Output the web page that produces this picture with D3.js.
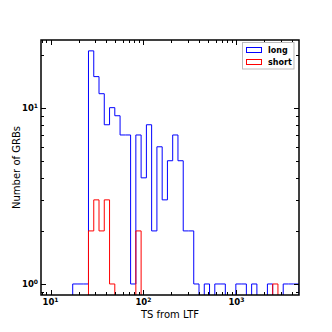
<!DOCTYPE html>
<html><head><meta charset="utf-8">
<script src="https://cdn.jsdelivr.net/npm/d3@7"></script>
<style>body{margin:0;background:#fff}svg{display:block}</style>
</head><body>
<svg id="c" width="332" height="332"></svg>
<script>
// Logarithmic histogram bin edges (TS values)
const binEdges = [17.33, 19.74, 22.48, 25.61, 29.18, 33.24, 37.87, 43.15, 49.15, 56.00,
  63.80, 72.68, 82.79, 94.32, 107.5, 122.4, 139.5, 158.9, 181.0, 206.2,
  234.9, 267.6, 304.9, 347.3, 395.7, 450.8, 513.5, 585.1, 666.6, 759.3,
  865.0, 985.4, 1122.6, 1278.9, 1456.9, 1659.6, 1890.7, 2153.9, 2454, 2795,
  3185, 3628, 4133, 4709];
const longCounts = [1, 1, 1, 21, 15, 12, 8, 10, 9, 7,
  7, 1, 7, 4, 8, 2, 6, 3, 5, 7,
  5, 2, 2, 1, 0, 1, 0, 1, 1, 0,
  0, 1, 1, 0, 1, 0, 0, 1, 0, 0,
  1, 1, 1];
const shortCounts = [0, 0, 0, 2, 3, 2, 3, 1, 0, 0,
  0, 0, 2, 0, 0, 0, 0, 0, 0, 0,
  0, 0, 0, 0, 0, 0, 0, 0, 0, 0,
  0, 0, 0, 0, 0, 0, 0, 0, 1, 0,
  0, 0, 0];
const seriesNames = ["long", "short"];
const seriesColors = ["#0000ff", "#ff0000"];
const xMajorTicks = [10, 100, 1000];
const xTickExps = ["1", "2", "3"];
const yMajorTicks = [1, 10];
const yTickExps = ["0", "1"];
const xDomain = [7.9, 4709];
const yDomain = [0.866, 24.2];

const svg = d3.select("#c");
const L = 41, R = 299, T = 40, B = 295;
const x = d3.scaleLog().domain(xDomain).range([L, R]);
const y = d3.scaleLog().domain(yDomain).range([B, T]);

svg.append("clipPath").attr("id", "clip").append("rect")
  .attr("x", L).attr("y", T).attr("width", R - L).attr("height", B - T);

function stepPoints(counts) {
  const pts = [[binEdges[0], 0]];
  counts.forEach((c, i) => { pts.push([binEdges[i], c]); pts.push([binEdges[i + 1], c]); });
  pts.push([binEdges[binEdges.length - 1], 0]);
  return pts;
}
const line = d3.line()
  .x(d => x(d[0]))
  .y(d => d[1] > 0 ? y(d[1]) : B + 20);

const g = svg.append("g").attr("clip-path", "url(#clip)");
[longCounts, shortCounts].forEach((counts, i) => {
  g.append("path").attr("d", line(stepPoints(counts)))
    .attr("fill", "none").attr("stroke", seriesColors[i]).attr("stroke-width", 1);
});

// ticks
const tickG = svg.append("g").attr("stroke", "#000").attr("stroke-width", 1);
const majLen = 5, minLen = 3;
function xMinor() {
  const out = [];
  for (let d = 1; d <= 1000; d *= 10) for (let m = 2; m <= 9; m++) {
    const v = m * d; if (v >= xDomain[0] && v <= xDomain[1]) out.push(v);
  }
  return out;
}
function yMinor() {
  const out = [];
  for (let d = 0.1; d <= 10; d *= 10) for (let m = 2; m <= 9; m++) {
    const v = m * d; if (v >= yDomain[0] && v <= yDomain[1]) out.push(v);
  }
  return out;
}
xMajorTicks.forEach(v => {
  const px = Math.round(x(v)) + 0.5;
  tickG.append("line").attr("x1", px).attr("x2", px).attr("y1", B).attr("y2", B - majLen);
  tickG.append("line").attr("x1", px).attr("x2", px).attr("y1", T).attr("y2", T + majLen);
});
xMinor().forEach(v => {
  const px = Math.round(x(v)) + 0.5;
  tickG.append("line").attr("x1", px).attr("x2", px).attr("y1", B).attr("y2", B - minLen);
  tickG.append("line").attr("x1", px).attr("x2", px).attr("y1", T).attr("y2", T + minLen);
});
yMajorTicks.forEach(v => {
  const py = Math.round(y(v)) + 0.5;
  tickG.append("line").attr("y1", py).attr("y2", py).attr("x1", L).attr("x2", L + majLen);
  tickG.append("line").attr("y1", py).attr("y2", py).attr("x1", R).attr("x2", R - majLen);
});
yMinor().forEach(v => {
  const py = Math.round(y(v)) + 0.5;
  tickG.append("line").attr("y1", py).attr("y2", py).attr("x1", L).attr("x2", L + minLen);
  tickG.append("line").attr("y1", py).attr("y2", py).attr("x1", R).attr("x2", R - minLen);
});

// frame
svg.append("rect").attr("x", L).attr("y", T).attr("width", R - L).attr("height", B - T)
  .attr("fill", "none").attr("stroke", "#000").attr("stroke-width", 1.5);

const font = "DejaVu Sans";
xMajorTicks.forEach((v, i) => {
  const t = svg.append("text").attr("x", x(v)).attr("y", 305)
    .attr("text-anchor", "middle").attr("font-family", font).attr("font-size", 8.5)
    .attr("font-weight", "bold");
  t.append("tspan").text("10");
  t.append("tspan").attr("dy", -3.5).attr("font-size", 6).text(xTickExps[i]);
});
yMajorTicks.forEach((v, i) => {
  const t = svg.append("text").attr("x", 38).attr("y", y(v) + 3.5)
    .attr("text-anchor", "end").attr("font-family", font).attr("font-size", 8.5)
    .attr("font-weight", "bold");
  t.append("tspan").text("10");
  t.append("tspan").attr("dy", -3.5).attr("font-size", 6).text(yTickExps[i]);
});

svg.append("text").attr("x", (L + R) / 2).attr("y", 318).attr("text-anchor", "middle")
  .attr("font-family", font).attr("font-size", 10).text("TS from LTF");
svg.append("text").attr("transform", `translate(19.5,${(T + B) / 2}) rotate(-90)`)
  .attr("text-anchor", "middle").attr("font-family", font).attr("font-size", 10)
  .text("Number of GRBs");

// legend
const lg = svg.append("g");
lg.append("rect").attr("x", 242.5).attr("y", 42.5).attr("width", 51.5).attr("height", 26.5)
  .attr("fill", "#fff").attr("stroke", "#bbb").attr("stroke-width", 1);
seriesNames.forEach((n, i) => {
  const yy = 47.5 + i * 12;
  lg.append("rect").attr("x", 246.5).attr("y", yy).attr("width", 15).attr("height", 5)
    .attr("fill", "none").attr("stroke", seriesColors[i]).attr("stroke-width", 1);
  lg.append("text").attr("x", 268).attr("y", yy + 5.5).attr("font-family", font)
    .attr("font-size", 8).attr("font-weight", "bold").text(n);
});
</script>
</body></html>
